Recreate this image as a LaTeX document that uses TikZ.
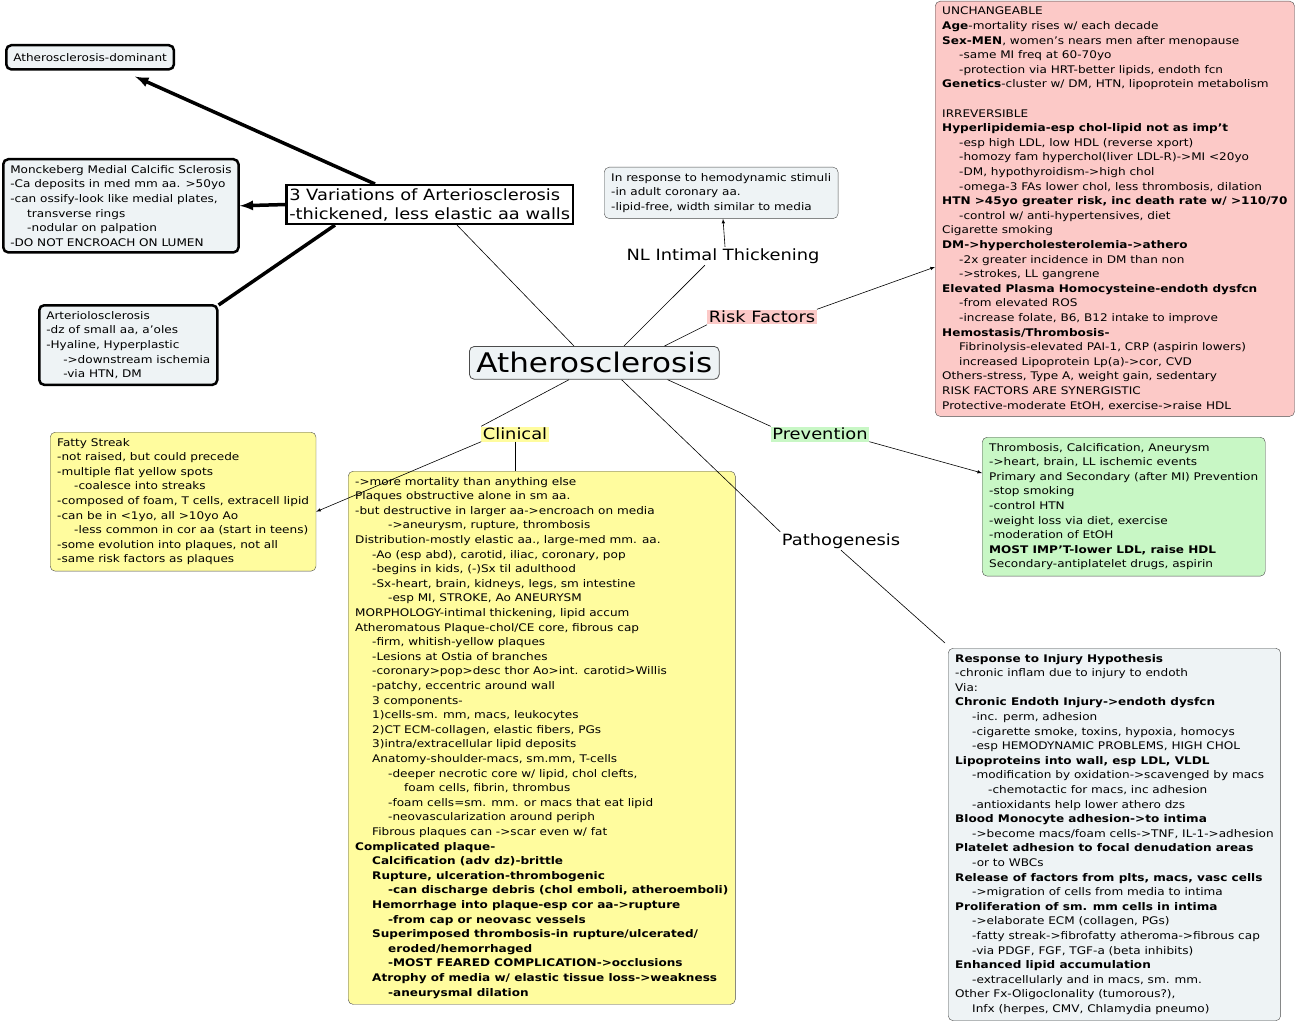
\documentclass[tikz,border=0pt]{standalone}
\usepackage{fontspec}
\setmainfont{DejaVu Sans}[FakeStretch=1.15]
\usetikzlibrary{positioning}
\definecolor{boxgrey}{HTML}{EEF3F5}
\definecolor{riskpink}{HTML}{FCC9C7}
\definecolor{clinyel}{HTML}{FFFC9E}
\definecolor{prevgrn}{HTML}{C8F7C5}
\newcommand\IA{\hspace*{17pt}}
\newcommand\IB{\hspace*{33pt}}
\tikzset{
  card/.style={draw=black!70,rounded corners=5pt,fill=boxgrey,align=left,anchor=north west,
    inner xsep=7pt,inner ysep=6pt,font=\fontsize{10.5}{14.6}\selectfont},
  heavy/.style={card,draw=black,line width=2.5pt},
  tag/.style={inner sep=1.5pt,font=\fontsize{15.5}{18}\selectfont},
  link/.style={draw=black,line width=0.6pt},
  fat/.style={draw=black,line width=3.5pt}
}
\begin{document}
\begin{tikzpicture}[x=1pt,y=-1pt]
\useasboundingbox (0,0) rectangle (1303,1027);

\node[card,line width=0.8pt,font=\fontsize{27}{32}\selectfont,inner ysep=6pt] (athero) at (469,346) {Atherosclerosis};

\node[draw=black,line width=2.5pt,fill=white,align=left,anchor=north west,inner sep=3pt,
  font=\fontsize{15.5}{19}\selectfont] (vari) at (285,184)
  {3 Variations of Arteriosclerosis\\-thickened, less elastic aa walls};
\node[heavy,inner ysep=8pt] (domin) at (5,44) {Atherosclerosis-dominant};
\node[heavy] (monck) at (2,158) {Monckeberg Medial Calcific Sclerosis\\-Ca deposits in med mm aa. >50yo\\-can ossify-look like medial plates,\\\IA transverse rings\\\IA -nodular on palpation\\-DO NOT ENCROACH ON LUMEN};
\node[heavy] (arterio) at (38,304) {Arteriolosclerosis\\-dz of small aa, a'oles\\-Hyaline, Hyperplastic\\\IA ->downstream ischemia\\\IA -via HTN, DM};

\node[card] (nlbox) at (604,167) {In response to hemodynamic stimuli\\-in adult coronary aa.\\-lipid-free, width similar to media};
\node[tag] (nl) at (723,256) {NL Intimal Thickening};

\node[tag,fill=riskpink] (risk) at (762,317) {Risk Factors};
\node[card,fill=riskpink] (riskbox) at (935,1) {UNCHANGEABLE\\
\textbf{Age}-mortality rises w/ each decade\\
\textbf{Sex-MEN}, women's nears men after menopause\\
\IA -same MI freq at 60-70yo\\
\IA -protection via HRT-better lipids, endoth fcn\\
\textbf{Genetics}-cluster w/ DM, HTN, lipoprotein metabolism\\[14.6pt]
IRREVERSIBLE\\
\textbf{Hyperlipidemia-esp chol-lipid not as imp't}\\
\IA -esp high LDL, low HDL (reverse xport)\\
\IA -homozy fam hyperchol(liver LDL-R)->MI <20yo\\
\IA -DM, hypothyroidism->high chol\\
\IA -omega-3 FAs lower chol, less thrombosis, dilation\\
\textbf{HTN >45yo greater risk, inc death rate w/ >110/70}\\
\IA -control w/ anti-hypertensives, diet\\
Cigarette smoking\\
\textbf{DM->hypercholesterolemia->athero}\\
\IA -2x greater incidence in DM than non\\
\IA ->strokes, LL gangrene\\
\textbf{Elevated Plasma Homocysteine-endoth dysfcn}\\
\IA -from elevated ROS\\
\IA -increase folate, B6, B12 intake to improve\\
\textbf{Hemostasis/Thrombosis-}\\
\IA Fibrinolysis-elevated PAI-1, CRP (aspirin lowers)\\
\IA increased Lipoprotein Lp(a)->cor, CVD\\
Others-stress, Type A, weight gain, sedentary\\
RISK FACTORS ARE SYNERGISTIC\\
Protective-moderate EtOH, exercise->raise HDL};

\node[tag,fill=clinyel] (clin) at (515,434) {Clinical};
\node[card,fill=clinyel] (fatty) at (50,432) {Fatty Streak\\-not raised, but could precede\\-multiple flat yellow spots\\\IA -coalesce into streaks\\-composed of foam, T cells, extracell lipid\\-can be in <1yo, all >10yo Ao\\\IA -less common in cor aa (start in teens)\\-some evolution into plaques, not all\\-same risk factors as plaques};
\node[card,fill=clinyel] (clinbox) at (348,471) {->more mortality than anything else\\
Plaques obstructive alone in sm aa.\\
-but destructive in larger aa->encroach on media\\
\IB ->aneurysm, rupture, thrombosis\\
Distribution-mostly elastic aa., large-med mm. aa.\\
\IA -Ao (esp abd), carotid, iliac, coronary, pop\\
\IA -begins in kids, (-)Sx til adulthood\\
\IA -Sx-heart, brain, kidneys, legs, sm intestine\\
\IB -esp MI, STROKE, Ao ANEURYSM\\
MORPHOLOGY-intimal thickening, lipid accum\\
Atheromatous Plaque-chol/CE core, fibrous cap\\
\IA -firm, whitish-yellow plaques\\
\IA -Lesions at Ostia of branches\\
\IA -coronary>pop>desc thor Ao>int. carotid>Willis\\
\IA -patchy, eccentric around wall\\
\IA 3 components-\\
\IA 1)cells-sm. mm, macs, leukocytes\\
\IA 2)CT ECM-collagen, elastic fibers, PGs\\
\IA 3)intra/extracellular lipid deposits\\
\IA Anatomy-shoulder-macs, sm.mm, T-cells\\
\IB -deeper necrotic core w/ lipid, chol clefts,\\
\IB \hspace*{16pt}foam cells, fibrin, thrombus\\
\IB -foam cells=sm. mm. or macs that eat lipid\\
\IB -neovascularization around periph\\
\IA Fibrous plaques can ->scar even w/ fat\\
\textbf{Complicated plaque-}\\
\IA \textbf{Calcification (adv dz)-brittle}\\
\IA \textbf{Rupture, ulceration-thrombogenic}\\
\IB \textbf{-can discharge debris (chol emboli, atheroemboli)}\\
\IA \textbf{Hemorrhage into plaque-esp cor aa->rupture}\\
\IB \textbf{-from cap or neovasc vessels}\\
\IA \textbf{Superimposed thrombosis-in rupture/ulcerated/}\\
\IB \textbf{eroded/hemorrhaged}\\
\IB \textbf{-MOST FEARED COMPLICATION->occlusions}\\
\IA \textbf{Atrophy of media w/ elastic tissue loss->weakness}\\
\IB \textbf{-aneurysmal dilation}};

\node[tag,fill=prevgrn] (prev) at (820,434) {Prevention};
\node[card,fill=prevgrn] (prevbox) at (982,437) {Thrombosis, Calcification, Aneurysm\\->heart, brain, LL ischemic events\\Primary and Secondary (after MI) Prevention\\-stop smoking\\-control HTN\\-weight loss via diet, exercise\\-moderation of EtOH\\\textbf{MOST IMP'T-lower LDL, raise HDL}\\Secondary-antiplatelet drugs, aspirin};

\node[tag] (patho) at (841,541) {Pathogenesis};
\node[card] (pathobox) at (948,648) {\textbf{Response to Injury Hypothesis}\\
-chronic inflam due to injury to endoth\\
Via:\\
\textbf{Chronic Endoth Injury->endoth dysfcn}\\
\IA -inc. perm, adhesion\\
\IA -cigarette smoke, toxins, hypoxia, homocys\\
\IA -esp HEMODYNAMIC PROBLEMS, HIGH CHOL\\
\textbf{Lipoproteins into wall, esp LDL, VLDL}\\
\IA -modification by oxidation->scavenged by macs\\
\IB -chemotactic for macs, inc adhesion\\
\IA -antioxidants help lower athero dzs\\
\textbf{Blood Monocyte adhesion->to intima}\\
\IA ->become macs/foam cells->TNF, IL-1->adhesion\\
\textbf{Platelet adhesion to focal denudation areas}\\
\IA -or to WBCs\\
\textbf{Release of factors from plts, macs, vasc cells}\\
\IA ->migration of cells from media to intima\\
\textbf{Proliferation of sm. mm cells in intima}\\
\IA ->elaborate ECM (collagen, PGs)\\
\IA -fatty streak->fibrofatty atheroma->fibrous cap\\
\IA -via PDGF, FGF, TGF-a (beta inhibits)\\
\textbf{Enhanced lipid accumulation}\\
\IA -extracellularly and in macs, sm. mm.\\
Other Fx-Oligoclonality (tumorous?),\\
\IA Infx (herpes, CMV, Chlamydia pneumo)};

% connectors
\draw[fat,-latex] ([xshift=90pt]vari.north west) -- ([xshift=-40pt,yshift=-6pt]domin.south east);
\draw[fat,-latex] (vari.west) -- (monck.east);
\draw[fat] ([xshift=50pt]vari.south west) -- ([yshift=-1pt]arterio.north east);
\draw[link] ([xshift=105pt]athero.north west) -- ([xshift=172pt]vari.south west);
\draw[link] ([xshift=155pt]athero.north west) -- ([xshift=80pt]nl.south west);
\draw[link,-latex] ([xshift=2pt]nl.north) -- (nl.north |- nlbox.south);
\draw[link] ([xshift=-55pt]athero.north east) -- (risk.south west);
\draw[link,-latex] (risk.north east) -- (riskbox.west |- 0,267);
\draw[link] ([xshift=100pt]athero.south west) -- (clin.north west);
\draw[link] (clin.south) -- (clin.south |- clinbox.north);
\draw[link,-latex] (clin.south west) -- ([yshift=-10pt]fatty.east);
\draw[link] ([xshift=-52pt]athero.south east) -- (prev.north west);
\draw[link,-latex] (prev.south east) -- ([yshift=-36pt]prevbox.north west);
\draw[link] ([xshift=-98pt]athero.south east) -- (patho.north west);
\draw[link] (patho.south) -- ([xshift=-3pt,yshift=5pt]pathobox.north west);
\end{tikzpicture}
\end{document}
